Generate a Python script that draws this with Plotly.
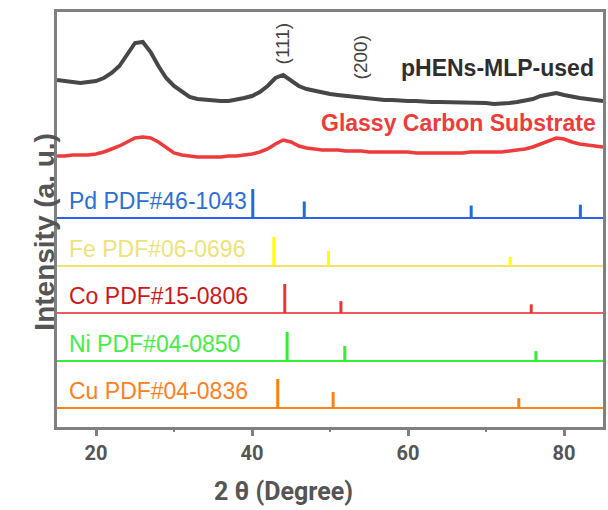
import plotly.graph_objects as go

# ---------------- data ----------------
two_theta = list(range(15, 86))  # degrees, 1° steps

# pHENs-MLP-used (a.u.)
used_int = [47, 46, 45, 44, 45, 46, 49, 54, 61, 72, 84, 85, 75, 61, 49, 41, 35, 30, 28, 27,
            26, 26, 26, 27, 29, 31, 35, 41, 49, 52, 46, 41, 38, 36, 34, 33, 32, 31, 30, 29,
            29, 28, 27, 27, 26, 26, 26, 25, 25, 25, 25, 24, 24, 24, 24, 24, 23, 23, 24, 25,
            26, 28, 31, 33, 34, 32, 30, 29, 28, 27, 26]

# Glassy Carbon Substrate (a.u.)
gc_int = [21, 21, 22, 22, 22, 23, 25, 28, 31, 35, 39, 40, 39, 35, 29, 24, 22, 21, 20, 20,
          20, 20, 21, 21, 22, 23, 25, 28, 33, 37, 35, 31, 29, 28, 27, 27, 27, 26, 26, 26,
          25, 25, 25, 25, 25, 25, 24, 24, 24, 24, 24, 24, 24, 25, 25, 25, 25, 25, 26, 27,
          28, 30, 33, 36, 39, 38, 35, 33, 32, 31, 30]

# reference patterns: peak positions (2θ) and relative intensities (%)
pd_pos = [40.1, 46.7, 68.1, 82.1]
pd_rel = [100, 57, 43, 46]
fe_pos = [42.8, 49.8, 73.1]
fe_rel = [100, 52, 31]
co_pos = [44.2, 51.4, 75.8]
co_rel = [100, 41, 30]
ni_pos = [44.5, 51.9, 76.4]
ni_rel = [100, 52, 34]
cu_pos = [43.3, 50.4, 74.2]
cu_rel = [100, 55, 34]

ref_labels = ["Pd PDF#46-1043", "Fe PDF#06-0696", "Co PDF#15-0806",
              "Ni PDF#04-0850", "Cu PDF#04-0836"]
x_ticks = [20, 40, 60, 80]

# ---------------- figure ----------------
X0, X1 = 15, 85
fig = go.Figure()

# measured curves (stacked with vertical offsets)
fig.add_trace(go.Scatter(x=two_theta, y=[v + 250 for v in gc_int], mode="lines",
                         line=dict(color="#ee3b3b", width=3.5), hoverinfo="skip"))
fig.add_trace(go.Scatter(x=two_theta, y=[v + 300 for v in used_int], mode="lines",
                         line=dict(color="#474747", width=4), hoverinfo="skip"))

refs = [
    (pd_pos, pd_rel, 209, "#2f5fee", "#1f6fd8", "#2b6fd6"),
    (fe_pos, fe_rel, 161, "#f0e470", "#ffff00", "#eee37a"),
    (co_pos, co_rel, 114, "#f05a5a", "#ee3535", "#d01818"),
    (ni_pos, ni_rel, 66, "#33ee33", "#33ee33", "#44ee44"),
    (cu_pos, cu_rel, 19, "#ff8418", "#ff7f10", "#ff8020"),
]
scale = 0.29
annotations = []
for (pos, rel, off, base_c, stick_c, lab_c), lab in zip(refs, ref_labels):
    fig.add_trace(go.Scatter(x=[X0, X1], y=[off, off], mode="lines",
                             line=dict(color=base_c, width=2.2), hoverinfo="skip"))
    sx, sy = [], []
    for p, r in zip(pos, rel):
        sx += [p, p, None]
        sy += [off, off + r * scale, None]
    fig.add_trace(go.Scatter(x=sx, y=sy, mode="lines",
                             line=dict(color=stick_c, width=3), hoverinfo="skip"))
    annotations.append(dict(x=16.3, y=off + 17, text=lab, showarrow=False,
                            xanchor="left", yanchor="middle",
                            font=dict(family="Arial, Liberation Sans", size=23, color=lab_c)))

annotations += [
    dict(x=43.9, y=384, text="(111)", textangle=-90, showarrow=False,
         font=dict(family="Arial, Liberation Sans", size=19, color="#444444")),
    dict(x=53.9, y=370, text="(200)", textangle=-90, showarrow=False,
         font=dict(family="Arial, Liberation Sans", size=19, color="#444444")),
    dict(x=84.1, y=359, text="<b>pHENs-MLP-used</b>", showarrow=False, xanchor="right",
         font=dict(family="Arial, Liberation Sans", size=23, color="#2e2e2e")),
    dict(x=84.3, y=304, text="<b>Glassy Carbon Substrate</b>", showarrow=False, xanchor="right",
         font=dict(family="Arial, Liberation Sans", size=23, color="#ee3b3b")),
    dict(xref="paper", yref="paper", x=-0.0546, y=0.47, text="<b>Intensity (a. u.)</b>",
         textangle=-90, showarrow=False,
         font=dict(family="Arial, Liberation Sans", size=28, color="#555555")),
    dict(xref="paper", yref="paper", x=0.415, y=-0.1566, text="2 θ (Degree)",
         showarrow=False, yanchor="middle",
         font=dict(family="Roboto", size=25, color="#555555", weight="bold")),
]

fig.update_layout(
    width=608, height=510,
    margin=dict(l=57, r=2, t=12, b=83),
    paper_bgcolor="white", plot_bgcolor="white",
    showlegend=False,
    annotations=annotations,
    xaxis=dict(range=[X0, X1], tickvals=x_ticks, ticks="outside", ticklen=6, tickwidth=3,
               tickcolor="#808080", showline=True, linecolor="#808080", linewidth=3,
               mirror=True, showgrid=False, zeroline=False,
               tickfont=dict(family="Roboto", size=20, color="#555555", weight="bold"),
               minor=dict(tickvals=[30, 50, 70], ticks="outside", ticklen=2, tickwidth=2,
                          tickcolor="#808080")),
    yaxis=dict(range=[0, 415], showticklabels=False, ticks="", showline=True,
               linecolor="#808080", linewidth=3, mirror=True, showgrid=False,
               zeroline=False),
)

fig.write_html("out.html", config={"displayModeBar": False},
               post_script="document.body.style.margin='0';document.body.style.overflow='hidden';")
